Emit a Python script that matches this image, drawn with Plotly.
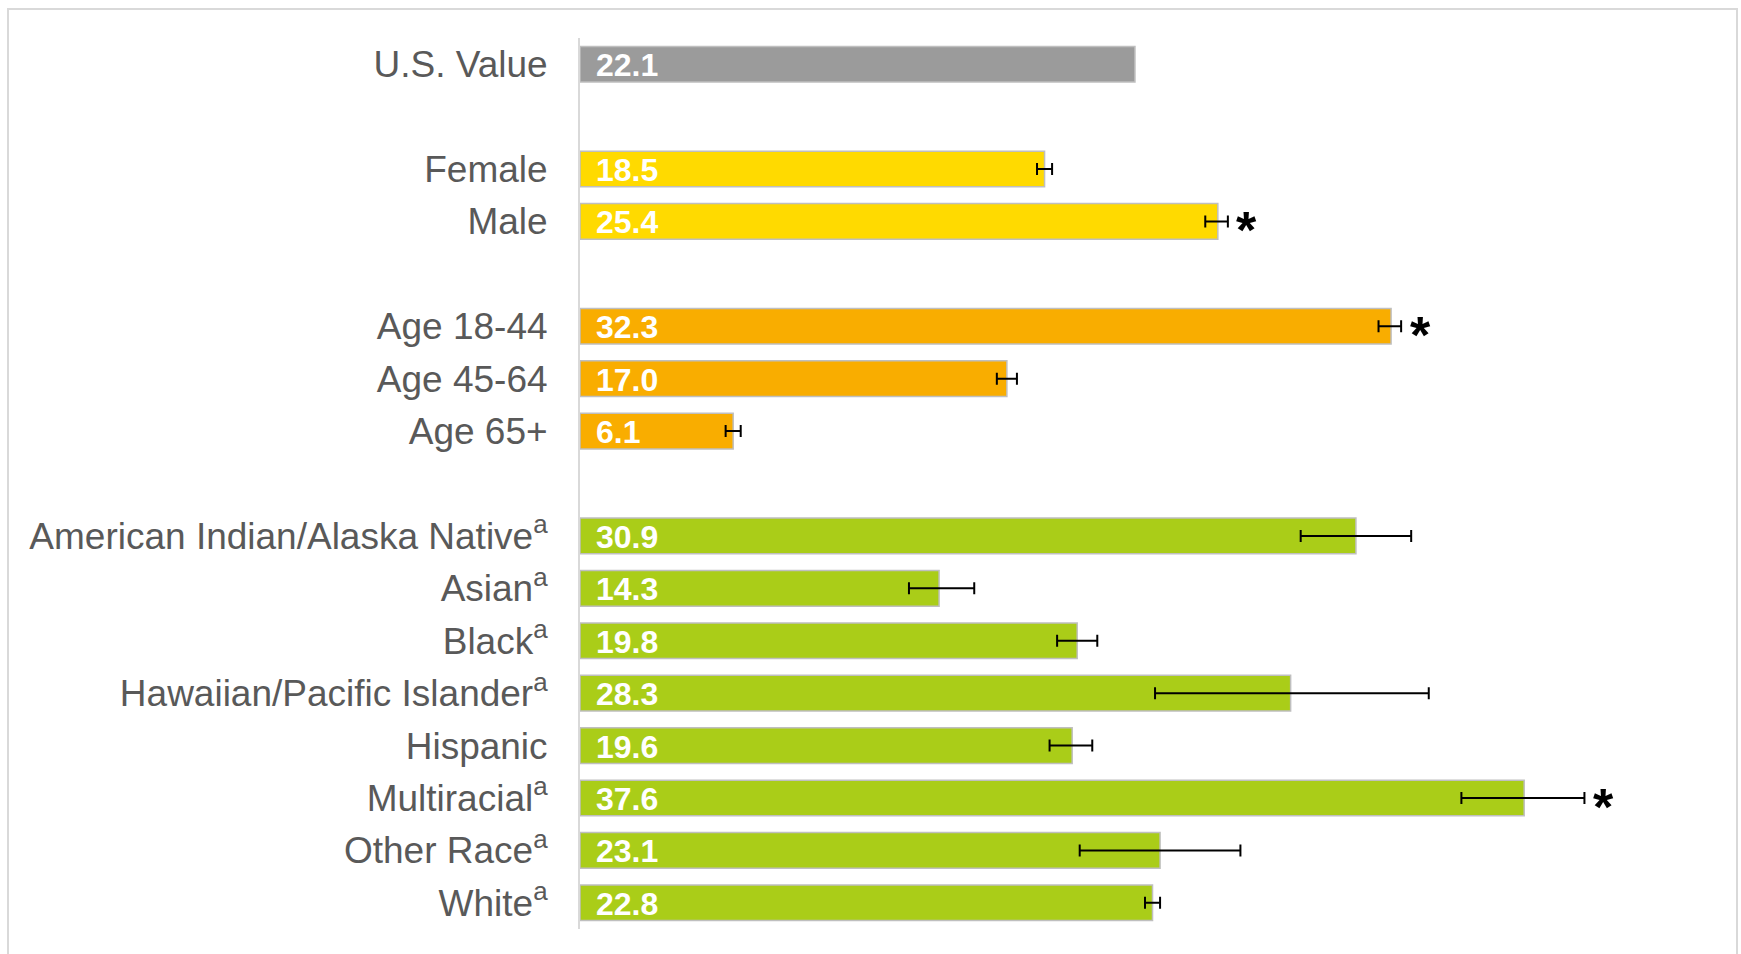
import plotly.graph_objects as go

# ---------------- data ----------------
categories = [
    "U.S. Value", " ",
    "Female", "Male", "  ",
    "Age 18-44", "Age 45-64", "Age 65+", "   ",
    "American Indian/Alaska Native<sup>a</sup>",
    "Asian<sup>a</sup>",
    "Black<sup>a</sup>",
    "Hawaiian/Pacific Islander<sup>a</sup>",
    "Hispanic",
    "Multiracial<sup>a</sup>",
    "Other Race<sup>a</sup>",
    "White<sup>a</sup>",
]
values = [22.1, None, 18.5, 25.4, None, 32.3, 17.0, 6.1, None,
          30.9, 14.3, 19.8, 28.3, 19.6, 37.6, 23.1, 22.8]
ci_lower = [None, None, 18.2, 24.9, None, 31.8, 16.6, 5.8, None,
            28.7, 13.1, 19.0, 22.9, 18.7, 35.1, 19.9, 22.5]
ci_upper = [None, None, 18.8, 25.8, None, 32.7, 17.4, 6.4, None,
            33.1, 15.7, 20.6, 33.8, 20.4, 40.0, 26.3, 23.1]
significant = [False, False, False, True, False, True, False, False, False,
               False, False, False, False, False, True, False, False]
groups = ["us", None, "sex", "sex", None, "age", "age", "age", None,
          "race", "race", "race", "race", "race", "race", "race", "race"]

group_colors = {"us": "#9B9B9B", "sex": "#FFDA00", "age": "#F9AD00", "race": "#AACD18"}

# ---------------- layout constants ----------------
W, H = 1741, 954
ML, MR, MT, MB = 580, 31, 38, 25
XMAX = 45

fig = go.Figure()
for g, col in group_colors.items():
    idx = [i for i, gg in enumerate(groups) if gg == g]
    xs = [values[i] for i in idx]
    ys = [categories[i] for i in idx]
    has_ci = all(ci_upper[i] is not None for i in idx)
    kw = {}
    if has_ci:
        kw["error_x"] = dict(
            type="data", symmetric=False,
            array=[ci_upper[i] - values[i] for i in idx],
            arrayminus=[values[i] - ci_lower[i] for i in idx],
            color="#000000", thickness=2, width=6)
    fig.add_trace(go.Bar(
        x=xs, y=ys, orientation="h",
        marker=dict(color=col, line=dict(color="#BFBFBF", width=1.5)),
        width=0.68, hoverinfo="skip", **kw,
    ))

annotations = []
for cat, v in zip(categories, values):
    if v is None:
        continue
    annotations.append(dict(
        x=0, y=cat, xref="x", yref="y", text=f"<b>{v:.1f}</b>",
        showarrow=False, xanchor="left", yanchor="middle", xshift=14, yshift=-1,
        font=dict(family="Liberation Sans, Arial, sans-serif", size=32, color="#FFFFFF"),
    ))
for cat, u, s in zip(categories, ci_upper, significant):
    if s:
        annotations.append(dict(
            x=u, y=cat, xref="x", yref="y", text="<b>*</b>",
            showarrow=False, xanchor="center", yanchor="middle", xshift=19, yshift=-9,
            font=dict(family="Liberation Sans, Arial, sans-serif", size=52, color="#000000"),
        ))

plot_w = W - ML - MR
plot_h = H - MT - MB
def px_x(p):
    return (p - ML) / plot_w
def px_y(p):
    return (H - MB - p) / plot_h

shapes = [dict(type="rect", xref="paper", yref="paper",
               x0=px_x(8), x1=px_x(1737), y0=px_y(975), y1=px_y(9),
               line=dict(color="#D9D9D9", width=2), fillcolor="rgba(0,0,0,0)", layer="below")]

fig.update_layout(
    width=W, height=H,
    margin=dict(l=ML, r=MR, t=MT, b=MB),
    paper_bgcolor="#FFFFFF", plot_bgcolor="#FFFFFF",
    showlegend=False,
    bargap=0.32,
    annotations=annotations,
    shapes=shapes,
    font=dict(family="Liberation Sans, Arial, sans-serif"),
)
fig.update_xaxes(range=[0, XMAX], visible=False, showgrid=False, zeroline=False)
fig.update_yaxes(
    type="category", categoryorder="array", categoryarray=categories,
    autorange="reversed", showgrid=False, zeroline=False,
    showline=True, linecolor="#D9D9D9", linewidth=2,
    ticks="", ticklabelstandoff=23,
    tickfont=dict(family="Liberation Sans, Arial, sans-serif", size=37, color="#595959"),
)

fig.write_html(
    "out.html",
    config={"displayModeBar": False},
    post_script="document.body.style.margin='0';document.body.style.overflow='hidden';",
)
